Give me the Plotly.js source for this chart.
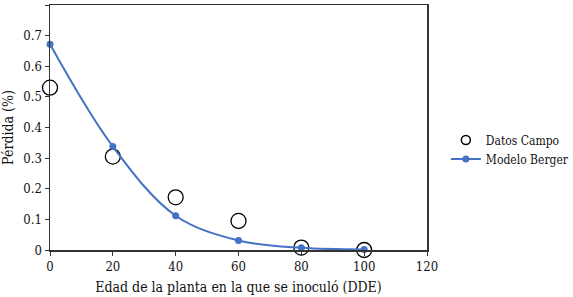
<!DOCTYPE html>
<html>
<head>
<meta charset="utf-8">
<script src="https://cdn.plot.ly/plotly-3.0.1.min.js"></script>
<style>html,body{margin:0;padding:0;background:#fff;}#chart{width:573px;height:297px;}</style>
</head>
<body>
<div id="chart"></div>
<script>
var edad = [0, 20, 40, 60, 80, 100];
var datosCampo = [0.53, 0.305, 0.172, 0.095, 0.008, 0.0];
var modeloBerger = [0.672, 0.338, 0.112, 0.031, 0.007, 0.002];
var xTicks = [0, 20, 40, 60, 80, 100, 120];
var yTicks = [0, 0.1, 0.2, 0.3, 0.4, 0.5, 0.6, 0.7, 0.8];

var traces = [
  {
    x: edad, y: datosCampo, name: 'Datos Campo', type: 'scatter', mode: 'markers',
    marker: {symbol: 'circle-open', size: 15, color: '#000', line: {width: 1.3, color: '#000'}},
    cliponaxis: false, showlegend: false
  },
  {
    x: [null], y: [null], name: 'Datos Campo', type: 'scatter', mode: 'markers',
    marker: {symbol: 'circle-open', size: 9, color: '#000', line: {width: 1.5, color: '#000'}},
    showlegend: true
  },
  {
    x: edad, y: modeloBerger, name: 'Modelo Berger', type: 'scatter', mode: 'lines+markers',
    line: {shape: 'spline', color: '#4472C4', width: 2},
    marker: {size: 7, color: '#4472C4'},
    cliponaxis: false
  }
];

var fam = 'DejaVu Serif Condensed, DejaVu Serif';
var txt = '#111';
var layout = {
  width: 573, height: 297,
  margin: {l: 50, r: 146, t: 5, b: 47, autoexpand: false},
  paper_bgcolor: '#fff', plot_bgcolor: '#fff',
  font: {family: fam, size: 13, color: txt},
  showlegend: true,
  legend: {x: 1.05, y: 0.41, xanchor: 'left', yanchor: 'middle', font: {family: fam, size: 12, color: txt}, bgcolor: 'rgba(0,0,0,0)', itemwidth: 30},
  xaxis: {
    range: [0, 120], tickvals: xTicks, ticktext: xTicks.map(String),
    showgrid: false, zeroline: false, showline: true, linecolor: '#333', linewidth: 1.5, mirror: true,
    ticks: 'outside', ticklen: 4, tickcolor: '#333', tickwidth: 1,
    tickfont: {family: fam, size: 13, color: txt},
    title: {text: 'Edad de la planta en la que se inoculó (DDE)', font: {family: fam, size: 14, color: txt}, standoff: 9}
  },
  yaxis: {
    range: [0, 0.8], tickvals: yTicks, ticktext: yTicks.map(String),
    showgrid: false, zeroline: false, showline: true, linecolor: '#333', linewidth: 1.5, mirror: true,
    ticks: 'outside', ticklen: 4, tickcolor: '#333', tickwidth: 1,
    tickfont: {family: fam, size: 13, color: txt},
    title: {text: 'Pérdida (%)', font: {family: fam, size: 14, color: txt}, standoff: 6}
  }
};
Plotly.newPlot('chart', traces, layout, {displayModeBar: false, staticPlot: true});
</script>
</body>
</html>
